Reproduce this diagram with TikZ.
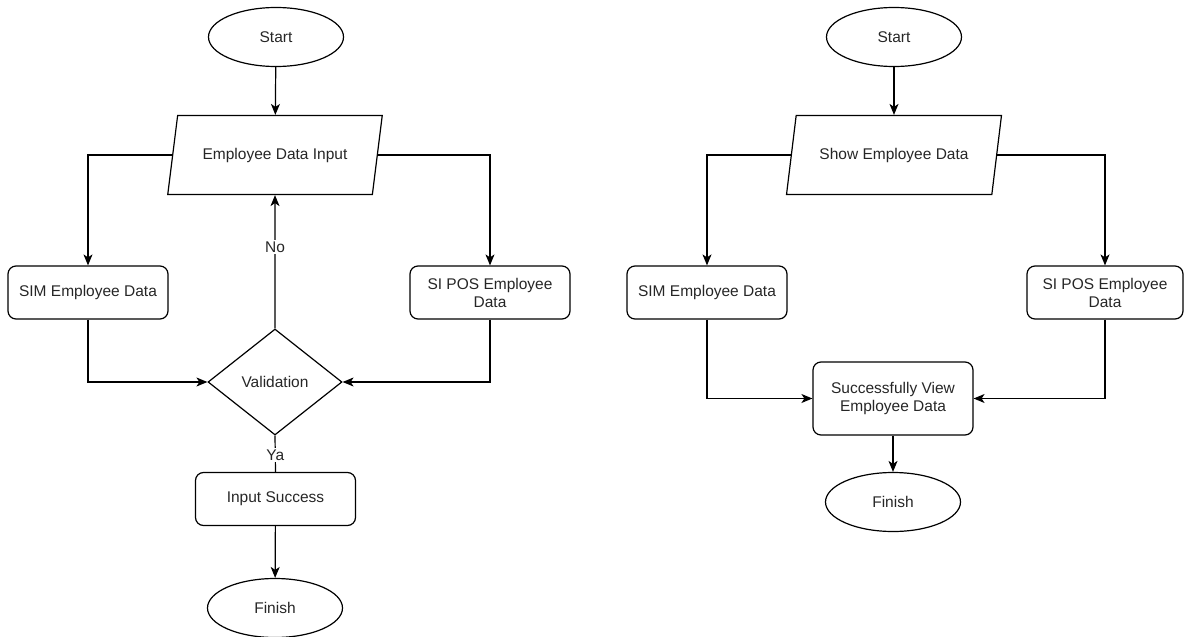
\documentclass[tikz,border=0pt]{standalone}
\usepackage{fontspec}
\setmainfont{Liberation Sans}
\usetikzlibrary{arrows.meta, shapes.geometric}
\usetikzlibrary{positioning}
\tikzstyle{term_node} = [
    ellipse,
    draw=black,
    line width=1.2pt,
    text=black!85,
    font=\fontsize{15.5}{18}\selectfont,
    minimum width=135pt,
    minimum height=59pt,
    align=center
]
\tikzstyle{io_node} = [
    trapezium,
    trapezium left angle=70,
    trapezium right angle=110,
    trapezium stretches=true,
    draw=black,
    line width=1.2pt,
    text=black!85,
    font=\fontsize{15.5}{18}\selectfont,
    minimum width=215pt,
    minimum height=79pt,
    align=center
]
\tikzstyle{proc_node} = [
    rectangle,
    rounded corners=8pt,
    draw=black,
    line width=1.2pt,
    text=black!85,
    font=\fontsize{15.5}{18}\selectfont,
    minimum width=160pt,
    minimum height=53pt,
    align=center
]
\tikzstyle{dec_node} = [
    diamond,
    draw=black,
    line width=1.2pt,
    text=black!85,
    font=\fontsize{15.5}{18}\selectfont,
    inner sep=0pt,
    minimum width=134pt,
    minimum height=106pt,
    align=center
]
\tikzstyle{edge_label} = [
    fill=white,
    text=black!85,
    font=\fontsize{15.5}{18}\selectfont,
    inner sep=1.5pt
]
\tikzstyle{flow} = [
    line width=1.2pt,
    -{Stealth[length=11pt, width=9pt, inset=3pt]}
]
\begin{document}
\begin{tikzpicture}[x=1pt, y=-1pt]
\useasboundingbox (0,0) rectangle (1184,637);
% input flow
\node [term_node] (start_in) at (276,37) {Start};
\node [io_node] (emp_input) at (275,155) {Employee Data Input};
\node [proc_node] (sim_in) at (88,292.5) {SIM Employee Data};
\node [proc_node] (sipos_in) at (490,292.5) {SI POS Employee\\Data};
\node [dec_node] (valid) at (275,382) {Validation};
\node [proc_node] (success) at (275.5,499) {Input Success};
\node [term_node] (finish_in) at (275,608) {Finish};

\draw [flow] (start_in) -- (emp_input);
\draw [flow] (emp_input.west) -| (sim_in.north);
\draw [flow] (emp_input.east) -| (sipos_in.north);
\draw [flow] (sim_in.south) |- (valid.west);
\draw [flow] (sipos_in.south) |- (valid.east);
\draw [flow] (valid.north) -- node [edge_label, pos=0.61] {No} (emp_input.south);
\draw [line width=1.2pt] (valid.south) -- node [edge_label, pos=0.53] {Ya} (success.north);
\draw [flow] (success) -- (finish_in);

% view flow
\node [term_node] (start_view) at (894,37) {Start};
\node [io_node] (emp_show) at (894,155) {Show Employee Data};
\node [proc_node] (sim_view) at (707,292.5) {SIM Employee Data};
\node [proc_node, minimum width=156pt] (sipos_view) at (1105,292.5) {SI POS Employee\\Data};
\node [proc_node, minimum height=73pt] (view_ok) at (893,398.5) {Successfully View\\Employee Data};
\node [term_node] (finish_view) at (893,502) {Finish};

\draw [flow] (start_view) -- (emp_show);
\draw [flow] (emp_show.west) -| (sim_view.north);
\draw [flow] (emp_show.east) -| (sipos_view.north);
\draw [flow] (sim_view.south) |- (view_ok.west);
\draw [flow] (sipos_view.south) |- (view_ok.east);
\draw [flow] (view_ok) -- (finish_view);
\end{tikzpicture}
\end{document}
